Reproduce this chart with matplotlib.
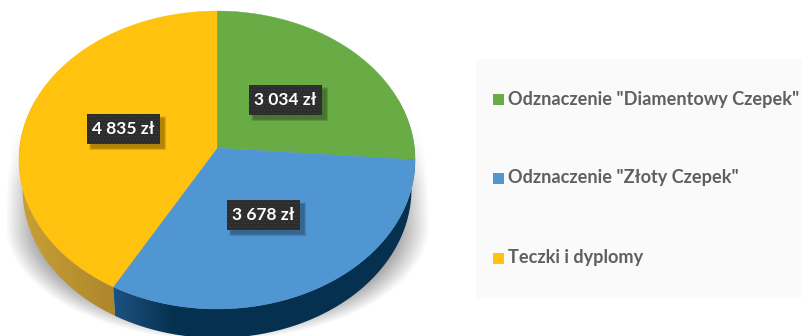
import numpy as np
import matplotlib
matplotlib.use("Agg")
import matplotlib.pyplot as plt
from matplotlib.patches import Polygon, Rectangle

plt.rcParams['font.family'] = ['Lato', 'DejaVu Sans']
plt.rcParams['hatch.linewidth'] = 0.6

categories = ['Odznaczenie "Diamentowy Czepek"', 'Odznaczenie "Złoty Czepek"', 'Teczki i dyplomy']
values = [3034, 3678, 4835]
colors = ['#69ab45', '#5096d2', '#fec20f']
side_left = ['#4d7a33', '#1c5383', '#c9a035']
side_right = ['#3a6626', '#06304f', '#8f6b26']

# pixel positions of the label boxes (left, top)
label_boxes = [(249, 85), (227, 200), (87, 114)]
legend_y = [99, 178, 258]

CX, CY = 217, 148
RX, K, C = 197.4, 148, -0.0805
DEPTH = 29
BOTTOM_SCALE = 0.982


def rim(angles):
    # clockwise from the top, tilted disc with some perspective
    u = np.sin(angles)
    v = -np.cos(angles)
    d = 1 + C * v
    return CX + RX * u / d, CY + K * v / d


fig = plt.figure(figsize=(8.02, 3.36), dpi=100)
ax = fig.add_axes([0, 0, 1, 1])
ax.axis('off')

# soft shadow under the disc
yy, xx = np.mgrid[0:336, 0:802]
ry = np.where(yy > 225, 115, 350)
dist = np.sqrt(((xx - 217) / 212) ** 2 + ((yy - 225) / ry) ** 2)
shade = np.clip((1.0 - dist) / 0.15, 0, 1)
shade = shade * np.clip((yy - 125) / 60, 0, 1)
rgba = np.zeros((336, 802, 4))
rgba[..., :3] = 0.6
rgba[..., 3] = shade * 0.9
ax.imshow(rgba, extent=(0, 802, 336, 0), aspect='auto', zorder=1)

# legend panel
ax.add_patch(Rectangle((476, 59), 326, 239, facecolor='#fafafa', edgecolor='none', zorder=1))

cum = np.cumsum([0] + values) / sum(values) * 2 * np.pi

# side wall, each slice with a gradient from left to right
for i in range(len(values)):
    t = np.linspace(cum[i], cum[i + 1], 200)
    x, y = rim(t)
    xb = CX + (x - CX) * BOTTOM_SCALE
    pts = np.r_[np.c_[x, y], np.c_[xb, y + DEPTH][::-1]]
    poly = Polygon(pts, closed=True, facecolor='none', edgecolor='none', zorder=2)
    ax.add_patch(poly)
    c0 = np.array(matplotlib.colors.to_rgb(side_left[i]))
    c1 = np.array(matplotlib.colors.to_rgb(side_right[i]))
    lo, hi = x.min(), x.max()
    if i == 1:
        # blue side goes dark quickly after the slice edge
        f = np.clip((np.linspace(lo, hi, 256) - lo) / 60, 0, 1)
    else:
        f = np.linspace(0, 1, 256)
    grad = (c0[None, :] * (1 - f[:, None]) + c1[None, :] * f[:, None])[None, :, :]
    im = ax.imshow(grad, extent=(lo, hi, 340, 100), aspect='auto', zorder=2)
    im.set_clip_path(poly)

# top face
for i in range(len(values)):
    t = np.linspace(cum[i], cum[i + 1], 200)
    x, y = rim(t)
    pts = np.r_[[[CX, CY]], np.c_[x, y]]
    ax.add_patch(Polygon(pts, closed=True, facecolor=colors[i], edgecolor=colors[i], lw=0.3, zorder=3))

# value labels
for i in range(len(values)):
    bx, by = label_boxes[i]
    for k in range(5):
        ax.add_patch(Rectangle((bx + 4 - k * 0.5, by + 4 - k * 0.5), 73 + k, 30 + k,
                               facecolor='black', alpha=0.07, edgecolor='none', zorder=4))
    ax.add_patch(Rectangle((bx, by), 73, 30, facecolor='#2c2c2c', edgecolor='#3d3d3d',
                           hatch='.....', lw=0, zorder=5))
    txt = f"{values[i]:,} zł".replace(',', ' ')
    ax.text(bx + 36.5, by + 15, txt, color='white', fontsize=12.5, fontweight='bold',
            ha='center', va='center', zorder=6)

# legend
for i in range(len(categories)):
    ax.add_patch(Rectangle((493, legend_y[i] - 5.5), 11, 11, facecolor=colors[i], edgecolor='none', zorder=3))
    ax.text(508, legend_y[i], categories[i], color='#5f5f5f', fontsize=13.1, fontweight='bold',
            ha='left', va='center', zorder=3)

ax.set_xlim(0, 802)
ax.set_ylim(336, 0)
fig.savefig("out.png", dpi=100)
